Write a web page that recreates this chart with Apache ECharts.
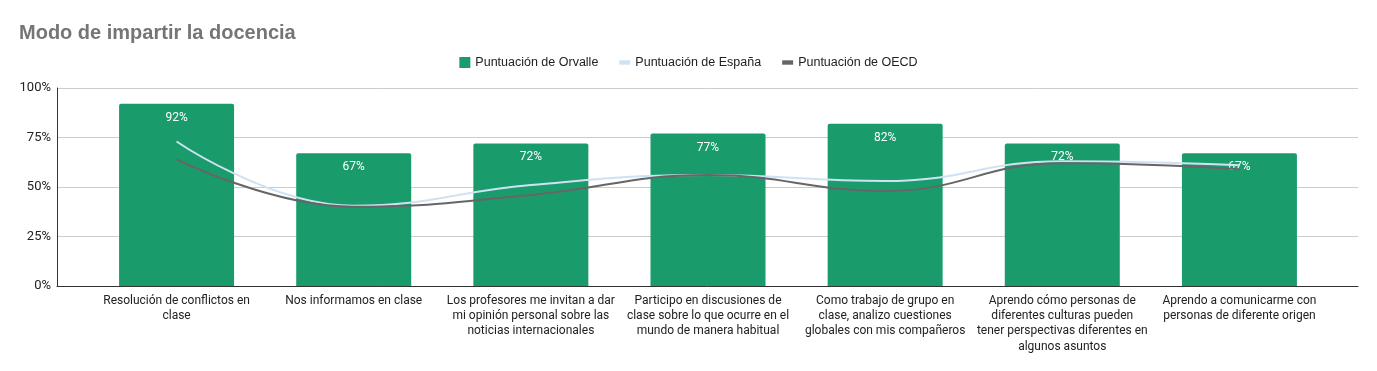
<!DOCTYPE html>
<html>
<head>
<meta charset="utf-8">
<script src="https://cdn.jsdelivr.net/npm/echarts@6/dist/echarts.min.js"></script>
<style>html,body{margin:0;padding:0;background:#fff}#c{width:1377px;height:371px}</style>
</head>
<body>
<div id="c"></div>
<script>
const categories = [
  "Resolución de conflictos en\nclase",
  "Nos informamos en clase",
  "Los profesores me invitan a dar\nmi opinión personal sobre las\nnoticias internacionales",
  "Participo en discusiones de\nclase sobre lo que ocurre en el\nmundo de manera habitual",
  "Como trabajo de grupo en\nclase, analizo cuestiones\nglobales con mis compañeros",
  "Aprendo cómo personas de\ndiferentes culturas pueden\ntener perspectivas diferentes en\nalgunos asuntos",
  "Aprendo a comunicarme con\npersonas de diferente origen"
];
const orvalle = [92, 67, 72, 77, 82, 72, 67];
const espana = [73, 40.5, 51, 56, 53, 63, 61];
const oecd = [64, 40, 46, 56, 48, 62, 59];
const seriesNames = ["Puntuación de Orvalle", "Puntuación de España", "Puntuación de OECD"];
const yTicks = { min: 0, max: 100, interval: 25 };

const chart = echarts.init(document.getElementById('c'), null, { renderer: 'canvas' });
const font = 'Roboto, "Liberation Sans", Arial, sans-serif';
chart.setOption({
  animation: false,
  title: {
    text: 'Modo de impartir la docencia',
    left: 14, top: 18,
    textStyle: { fontFamily: '"Liberation Sans", Arial, sans-serif', fontSize: 20, fontWeight: 'bold', color: '#757575' }
  },
  legend: {
    top: 51, left: 'center',
    itemWidth: 11, itemHeight: 11, itemGap: 21,
    textStyle: { fontFamily: '"Liberation Sans", Arial, sans-serif', fontSize: 12.5, color: '#222' },
    data: [
      { name: seriesNames[0], icon: 'rect' },
      { name: seriesNames[1], icon: 'path://M0,0L10,0L10,4L0,4Z' },
      { name: seriesNames[2], icon: 'path://M0,0L10,0L10,4L0,4Z' }
    ]
  },
  grid: [
    { left: 57, right: 19, top: 88, bottom: 85 },
    { left: 88, right: 49, top: 88, bottom: 85 }
  ],
  xAxis: [
    { gridIndex: 0, type: 'category', data: [''], axisLine: { show: true, lineStyle: { color: '#333', width: 1 } },
      axisTick: { show: false }, axisLabel: { show: false }, splitLine: { show: false } },
    { gridIndex: 1, type: 'category', data: categories, boundaryGap: true,
      axisLine: { show: false }, axisTick: { show: false },
      axisLabel: { interval: 0, margin: 7, fontFamily: font, fontSize: 12, lineHeight: 15.3, color: '#222', align: 'center' } }
  ],
  yAxis: [
    { gridIndex: 0, type: 'value', min: yTicks.min, max: yTicks.max, interval: yTicks.interval,
      axisLine: { show: true, lineStyle: { color: '#333', width: 1 } }, axisTick: { show: false },
      axisLabel: { formatter: '{value}%', fontFamily: font, fontSize: 13, color: '#222', margin: 6 },
      splitLine: { lineStyle: { color: '#cccccc', width: 1 } } },
    { gridIndex: 1, type: 'value', min: yTicks.min, max: yTicks.max, interval: yTicks.interval, show: false,
      splitLine: { show: false } }
  ],
  series: [
    { name: seriesNames[0], type: 'bar', xAxisIndex: 1, yAxisIndex: 1, data: orvalle, barWidth: 115,
      itemStyle: { color: '#1a9b6c', borderRadius: [2, 2, 0, 0] },
      label: { show: true, position: 'insideTop', distance: 8, formatter: '{c}%', color: '#fff', fontFamily: font, fontSize: 12 } },
    { name: seriesNames[1], type: 'line', xAxisIndex: 1, yAxisIndex: 1, data: espana, smooth: 0.45,
      symbol: 'none', lineStyle: { color: '#cfe2f3', width: 2 }, itemStyle: { color: '#cfe2f3' } },
    { name: seriesNames[2], type: 'line', xAxisIndex: 1, yAxisIndex: 1, data: oecd, smooth: 0.45,
      symbol: 'none', lineStyle: { color: '#666666', width: 2 }, itemStyle: { color: '#666666' } }
  ]
});
</script>
</body>
</html>
